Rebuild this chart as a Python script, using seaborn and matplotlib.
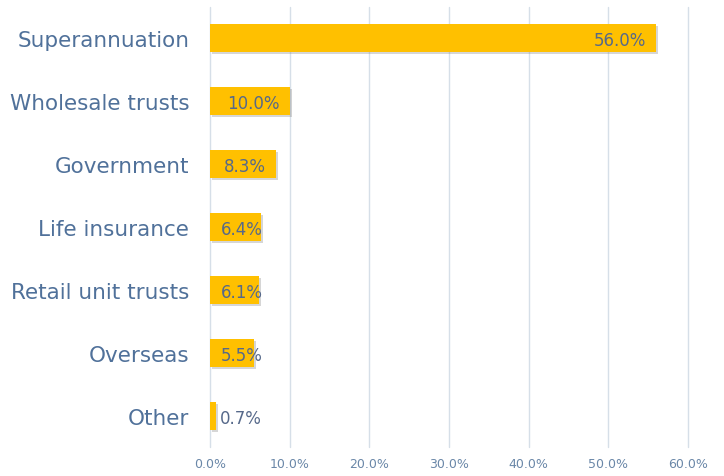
import matplotlib
matplotlib.use("Agg")
import matplotlib.pyplot as plt
import matplotlib.patheffects as pe
from matplotlib.ticker import FuncFormatter
import seaborn as sns
import pandas as pd

categories = ["Superannuation", "Wholesale trusts", "Government", "Life insurance",
              "Retail unit trusts", "Overseas", "Other"]
values = [56.0, 10.0, 8.3, 6.4, 6.1, 5.5, 0.7]
tick_values = [0, 10, 20, 30, 40, 50, 60]

sns.set_theme(style="white")
plt.rcParams['font.family'] = ['DejaVu Sans']

df = pd.DataFrame({"category": categories, "value": values})

fig = plt.figure(figsize=(7.24, 4.77), dpi=100)
ax = fig.add_axes([0.290, 0.060, 0.660, 0.924])

bar_color = "#FFC000"
text_color = "#50719A"
label_color = "#56698A"
tick_color = "#6A87A8"

sns.barplot(data=df, x="value", y="category", orient="h", color=bar_color,
            width=0.44, ax=ax, saturation=1, zorder=3)

for p in ax.patches:
    p.set_edgecolor("none")
    p.set_path_effects([pe.SimplePatchShadow(offset=(1.5, -1.5), shadow_rgbFace="#8a8a8a", alpha=0.35),
                        pe.Normal()])

ax.set_xlim(0, 60)
ax.set_ylim(6.5, -0.5)
ax.set_xticks(tick_values)
ax.xaxis.set_major_formatter(FuncFormatter(lambda v, _: f"{v:.1f}%"))
ax.grid(axis="x", color="#D6DFE8", linewidth=1, zorder=0)
for gl in ax.get_xgridlines():
    gl.set_clip_on(False)
ax.grid(axis="y", visible=False)
for s in ax.spines.values():
    s.set_visible(False)
ax.set_xlabel("")
ax.set_ylabel("")
ax.tick_params(axis="x", colors=tick_color, labelsize=9, length=0, pad=7)
ax.tick_params(axis="y", colors=text_color, labelsize=15.5, length=0, pad=15)
for lab in ax.get_yticklabels():
    lab.set_color(text_color)

for i, v in enumerate(values):
    if v >= 8:
        ax.text(v - 1.27, i + 0.03, f"{v:.1f}%", ha="right", va="center",
                color=label_color, fontsize=12, zorder=5)
    elif v >= 3:
        ax.text(1.4, i + 0.03, f"{v:.1f}%", ha="left", va="center",
                color=label_color, fontsize=12, zorder=5)
    else:
        ax.text(v + 0.6, i + 0.03, f"{v:.1f}%", ha="left", va="center",
                color=label_color, fontsize=12, zorder=5)

fig.savefig("out.png", dpi=100)
